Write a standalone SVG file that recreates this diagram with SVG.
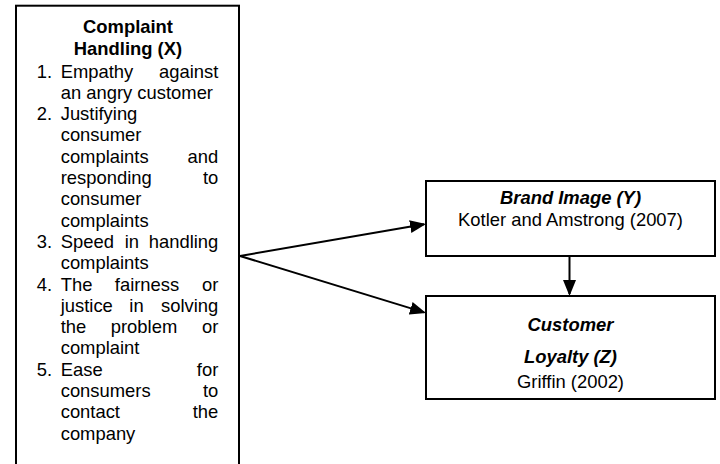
<svg xmlns="http://www.w3.org/2000/svg" width="720" height="464" viewBox="0 0 720 464">
  <style>
    .box { fill: #ffffff; stroke: #000000; stroke-width: 2; }
    .t { font-family: "Liberation Sans", Arial, sans-serif; font-size: 18.4px; fill: #000000; }
    .b { font-weight: bold; }
    .bi { font-weight: bold; font-style: italic; }
    .c { text-anchor: middle; }
    .e { text-anchor: end; }
    .m { text-anchor: middle; }
    .link { stroke: #000000; stroke-width: 2; fill: none; marker-end: url(#head); }
  </style>
  <defs>
    <marker id="head" markerUnits="userSpaceOnUse" markerWidth="17" markerHeight="14" refX="14" refY="6.5" orient="auto">
      <path d="M0,0 L16,6.5 L0,13 Z" fill="#000000"/>
    </marker>
  </defs>
  <rect x="0" y="0" width="720" height="464" fill="#ffffff"/>

  <!-- Complaint handling dimensions -->
  <g id="complaint-handling">
    <rect class="box" x="16" y="5.7" width="223" height="470"/>
    <text class="t b c" x="128" y="33">Complaint</text>
    <text class="t b c" x="128" y="55">Handling (X)</text>

    <text class="t" x="36.7" y="77.5">1.</text>
    <text class="t" x="60.7" y="77.5">Empathy</text>
    <text class="t e" x="218.3" y="77.5">against</text>
    <text class="t" x="60.7" y="98.8">an angry customer</text>

    <text class="t" x="36.7" y="120.1">2.</text>
    <text class="t" x="60.7" y="120.1">Justifying</text>
    <text class="t" x="60.7" y="141.4">consumer</text>
    <text class="t" x="60.7" y="162.7">complaints</text>
    <text class="t e" x="218.3" y="162.7">and</text>
    <text class="t" x="60.7" y="184">responding</text>
    <text class="t e" x="218.3" y="184">to</text>
    <text class="t" x="60.7" y="205.3">consumer</text>
    <text class="t" x="60.7" y="226.6">complaints</text>

    <text class="t" x="36.7" y="247.9">3.</text>
    <text class="t" x="60.7" y="247.9">Speed</text>
    <text class="t m" x="131.8" y="247.9">in</text>
    <text class="t e" x="218.3" y="247.9">handling</text>
    <text class="t" x="60.7" y="269.2">complaints</text>

    <text class="t" x="36.7" y="290.5">4.</text>
    <text class="t" x="60.7" y="290.5">The</text>
    <text class="t m" x="147" y="290.5">fairness</text>
    <text class="t e" x="218.3" y="290.5">or</text>
    <text class="t" x="60.7" y="311.8">justice</text>
    <text class="t m" x="136.5" y="311.8">in</text>
    <text class="t e" x="218.3" y="311.8">solving</text>
    <text class="t" x="60.7" y="333.1">the</text>
    <text class="t m" x="144" y="333.1">problem</text>
    <text class="t e" x="218.3" y="333.1">or</text>
    <text class="t" x="60.7" y="354.4">complaint</text>

    <text class="t" x="36.7" y="375.7">5.</text>
    <text class="t" x="60.7" y="375.7">Ease</text>
    <text class="t e" x="218.3" y="375.7">for</text>
    <text class="t" x="60.7" y="397">consumers</text>
    <text class="t e" x="218.3" y="397">to</text>
    <text class="t" x="60.7" y="418.3">contact</text>
    <text class="t e" x="218.3" y="418.3">the</text>
    <text class="t" x="60.7" y="439.6">company</text>
  </g>

  <!-- Brand image -->
  <g id="brand-image">
    <rect class="box" x="426" y="181" width="289" height="75"/>
    <text class="t bi c" x="570.5" y="203.5">Brand Image (Y)</text>
    <text class="t c" x="570.5" y="226">Kotler and Amstrong (2007)</text>
  </g>

  <!-- Customer loyalty -->
  <g id="customer-loyalty">
    <rect class="box" x="426" y="296" width="289" height="103"/>
    <text class="t bi c" x="570.5" y="331">Customer</text>
    <text class="t bi c" x="570.5" y="363">Loyalty (Z)</text>
    <text class="t c" x="570.5" y="388">Griffin (2002)</text>
  </g>

  <!-- Connectors -->
  <g id="connectors">
    <line class="link" x1="240" y1="256" x2="424.03" y2="224.34"/>
    <line class="link" x1="240" y1="256" x2="424.09" y2="312.41"/>
    <line class="link" x1="569.5" y1="256" x2="569.5" y2="294"/>
  </g>
</svg>
